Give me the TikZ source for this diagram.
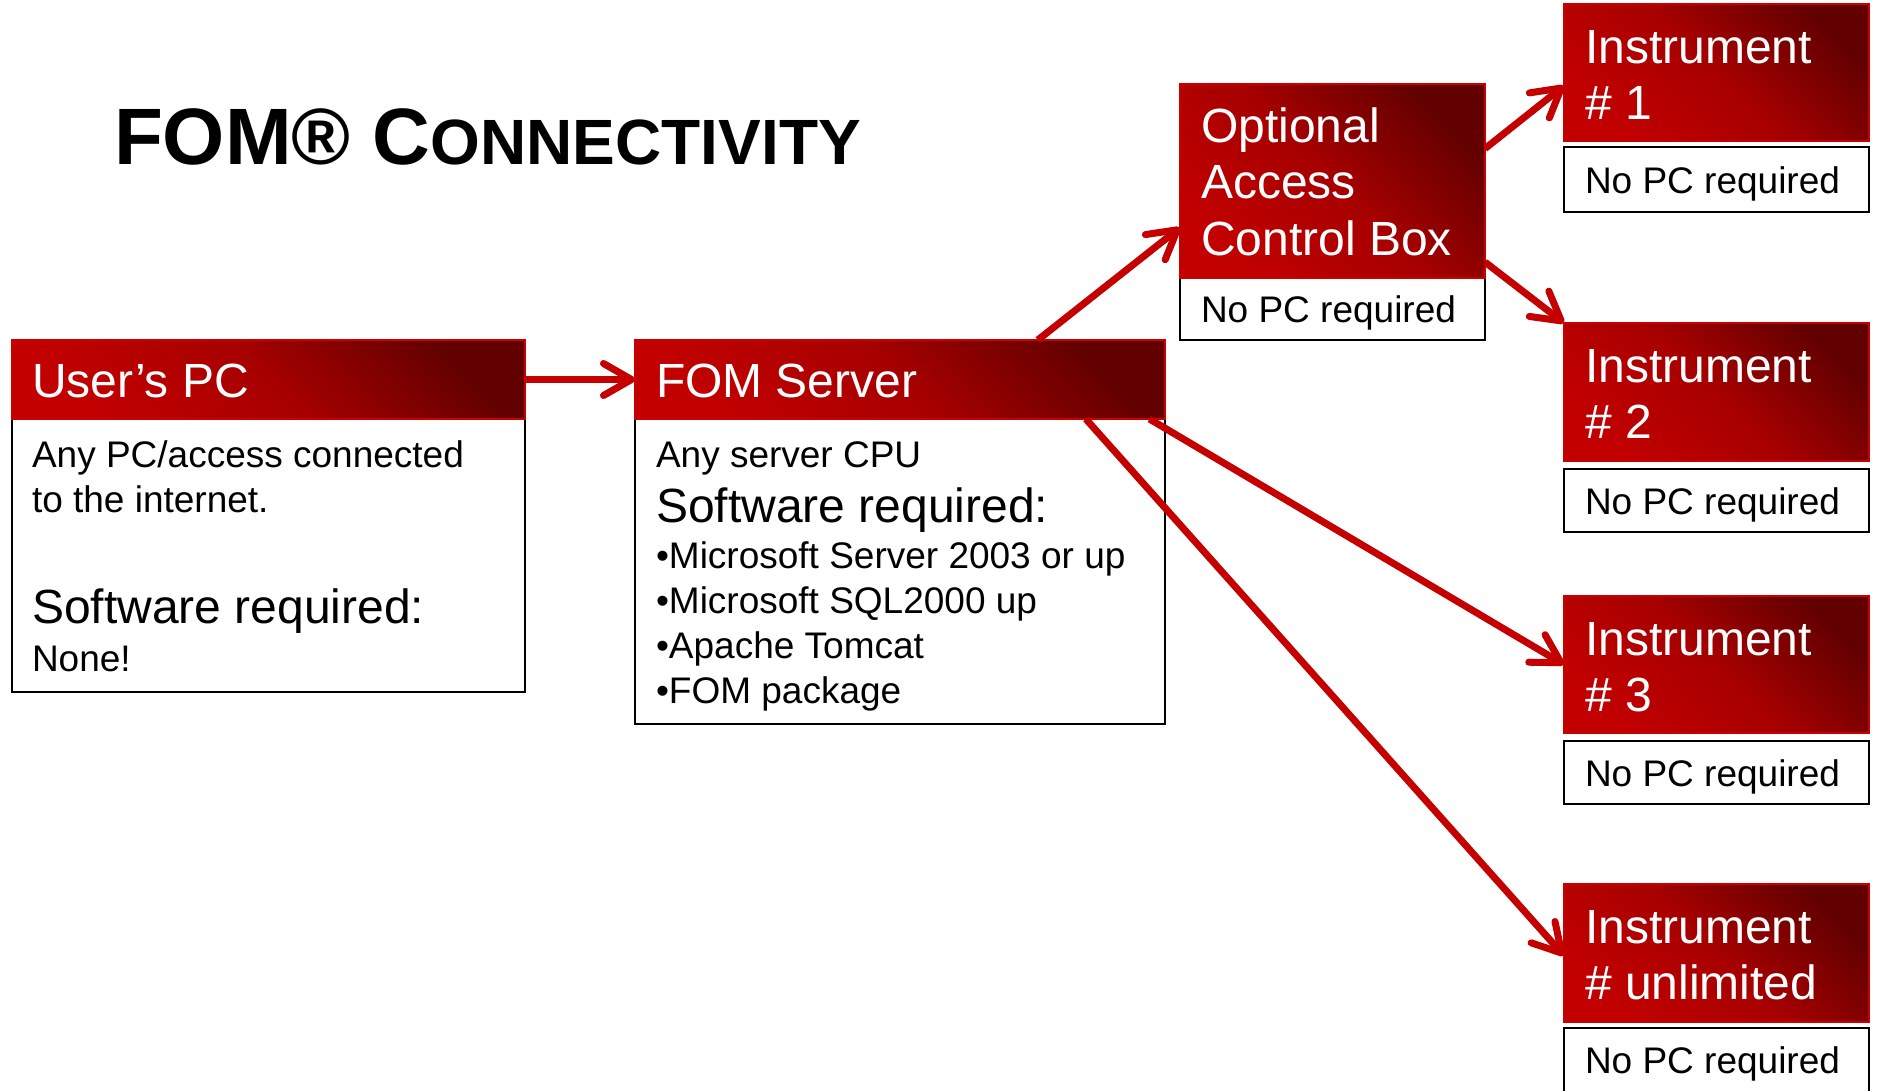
\documentclass[tikz,border=0pt]{standalone}
\usepackage{fontspec}
\setmainfont{Liberation Sans}
\usetikzlibrary{arrows.meta}
\definecolor{hbright}{RGB}{194,0,0}
\definecolor{hdark}{RGB}{98,0,0}
\definecolor{hborder}{RGB}{200,0,0}
\definecolor{arrowred}{RGB}{196,0,0}
\newcommand{\fsz}[1]{\fontsize{#1bp}{#1bp}\selectfont}
\begin{document}
\begin{tikzpicture}[x=1bp,y=-1bp,
  hdr/.style={rectangle, draw=hborder, line width=2.5bp, top color=hdark, bottom color=hbright, middle color=hbright!72!hdark, shading angle=-45, inner sep=0pt, outer sep=0pt},
  wbox/.style={rectangle, draw=black, line width=2bp, fill=white, inner sep=0pt, outer sep=0pt},
  txt/.style={anchor=base west, inner sep=0pt, outer sep=0pt},
  htxt/.style={txt, text=white, font=\fsz{48}},
  btxt/.style={txt, text=black, font=\fsz{37}},
  bigtxt/.style={txt, text=black, font=\fsz{48}},
  conn/.style={draw=arrowred, line width=7bp, -{Straight Barb[length=28bp,width=32bp,round]}}
]
\useasboundingbox (0,0) rectangle (1879,1090);

% title
\node[txt, font=\bfseries] (title) at (114,164) {{\fsz{80}FOM® C}{\fsz{64}ONNECTIVITY}};

% white boxes
\node[wbox, minimum width=513bp, minimum height=273bp] (userb) at (268.5,555.5) {};
\node[wbox, minimum width=530bp, minimum height=305bp] (fomb) at (900,571.5) {};
\node[wbox, minimum width=305bp, minimum height=62bp] (optb) at (1332.5,309) {};
\node[wbox, minimum width=305bp, minimum height=65bp] (inst1b) at (1716.5,179.5) {};
\node[wbox, minimum width=305bp, minimum height=63bp] (inst2b) at (1716.5,500.5) {};
\node[wbox, minimum width=305bp, minimum height=63bp] (inst3b) at (1716.5,772.5) {};
\node[wbox, minimum width=305bp, minimum height=65bp] (instUb) at (1716.5,1060.5) {};

% headers
\node[hdr, minimum width=513bp, minimum height=79bp] (userh) at (268.5,379.5) {};
\node[hdr, minimum width=530bp, minimum height=79bp] (fomh) at (900,379.5) {};
\node[hdr, minimum width=305bp, minimum height=194bp] (opth) at (1332.5,181) {};
\node[hdr, minimum width=305bp, minimum height=137bp] (inst1h) at (1716.5,72.5) {};
\node[hdr, minimum width=305bp, minimum height=138bp] (inst2h) at (1716.5,392) {};
\node[hdr, minimum width=305bp, minimum height=137bp] (inst3h) at (1716.5,664.5) {};
\node[hdr, minimum width=305bp, minimum height=138bp] (instUh) at (1716.5,953) {};

% header texts
\node[htxt] (userht) at (32,397) {User’s PC};
\node[htxt] (fomht) at (656,397) {FOM Server};
\node[htxt] (optht1) at (1201,142) {Optional};
\node[htxt] (optht2) at (1201,198) {Access};
\node[htxt] (optht3) at (1201,255) {Control Box};
\node[htxt] (i1a) at (1585,63) {Instrument};
\node[htxt] (i1b) at (1585,119) {\# 1};
\node[htxt] (i2a) at (1585,382) {Instrument};
\node[htxt] (i2b) at (1585,438) {\# 2};
\node[htxt] (i3a) at (1585,655) {Instrument};
\node[htxt] (i3b) at (1585,711) {\# 3};
\node[htxt] (iUa) at (1585,943) {Instrument};
\node[htxt] (iUb) at (1585,999) {\# unlimited};

% body texts
\node[btxt] (ut1) at (32,467) {Any PC/access connected};
\node[btxt] (ut2) at (32,512) {to the internet.};
\node[bigtxt] (ut3) at (32,623) {Software required:};
\node[btxt] (ut4) at (32,671) {None!};

\node[btxt] (ft1) at (656,467) {Any server CPU};
\node[bigtxt] (ft2) at (656,522) {Software required:};
\node[btxt] (ft3) at (656,568) {•Microsoft Server 2003 or up};
\node[btxt] (ft4) at (656,613) {•Microsoft SQL2000 up};
\node[btxt] (ft5) at (656,658) {•Apache Tomcat};
\node[btxt] (ft6) at (656,703) {•FOM package};

\node[btxt] (obt) at (1201,322) {No PC required};
\node[btxt] (i1t) at (1585,193) {No PC required};
\node[btxt] (i2t) at (1585,514) {No PC required};
\node[btxt] (i3t) at (1585,786) {No PC required};
\node[btxt] (iUt) at (1585,1073) {No PC required};

% connectors
\draw[conn] (userh.east) -- (fomh.west);
\draw[conn] (fomh.16.4) -- (opth.197.8);
\draw[conn] (opth.12.6) -- (inst1h.185);
\draw[conn] (opth.332.6) -- (inst2h.north west);
\draw[conn] (fomh.351) -- (inst3h.west);
\draw[conn] (fomh.348) -- (instUh.181);
\end{tikzpicture}
\end{document}
